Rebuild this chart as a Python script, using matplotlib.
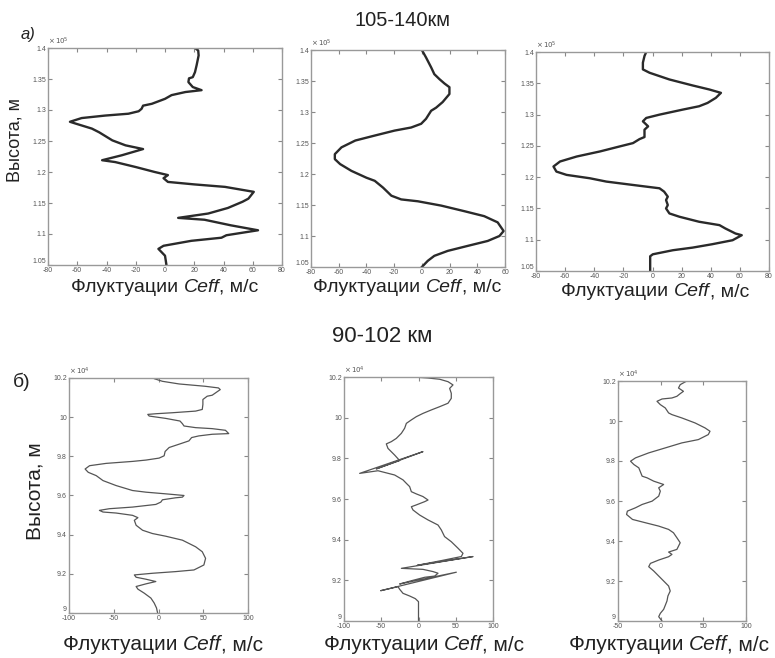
import matplotlib
matplotlib.use("Agg")
import matplotlib.pyplot as plt
import numpy as np

plt.rcParams['font.family'] = ['Liberation Sans', 'DejaVu Sans']

# ---------------- row a): 105-140 km (altitude in km, fluctuation in m/s) ----------------
alt_a1 = [105.0, 106.5, 107.6, 108.1, 108.9, 109.4, 109.8, 110.6, 111.4, 112.3,
          112.6, 113.3, 114.2, 115.2, 115.7, 116.8, 117.6, 118.0, 118.4, 119.0,
          119.5, 120.0, 120.8, 121.6, 121.9, 122.7, 123.7, 124.3, 125.1, 126.4,
          127.0, 127.8, 128.1, 128.7, 129.1, 129.4, 129.8, 130.2, 130.7, 131.0,
          131.8, 132.4, 132.9, 133.2, 133.7, 134.5, 135.1, 135.3, 136.1, 137.2,
          138.8, 139.6, 140.0]
ceff_a1 = [1, 0, -4.5, -1, 18, 38.6, 42, 63.6, 45, 27,
           9, 29.5, 43, 53, 57, 60.7, 41, 20, 2, -1,
           2, -7, -20, -34, -43, -29.5, -15, -27, -36, -45,
           -50, -61, -65, -57, -41, -25, -18, -16, -15, -9,
           0, 4.5, 14, 25, 19, 16, 16.4, 19, 20.5, 21.6,
           23, 22.7, 20.5]

alt_a2 = [105.0, 106.0, 106.8, 107.6, 108.4, 109.2, 110.0, 110.8, 112.2, 113.2,
          114.0, 114.9, 115.6, 115.9, 116.5, 117.8, 118.9, 119.4, 120.5, 121.6,
          122.4, 123.2, 124.3, 125.4, 126.2, 127.0, 127.5, 128.1, 128.9, 130.2,
          130.7, 131.6, 132.9, 134.0, 134.6, 135.3, 136.1, 137.2, 138.8, 140.0]
ceff_a2 = [0, 4.3, 9, 18.7, 33, 47.5, 56, 59, 54.7, 45,
           30.7, 14, -2.9, -14.9, -22, -28, -34, -40, -50.8, -59,
           -62.8, -62.8, -58, -48, -34, -19.7, -7.7, -0.5, 3, 6.7,
           10.3, 15, 19.9, 19.9, 16.3, 12.7, 9, 6.7, 3, 0]

alt_a3 = [105.0, 107.35, 107.67, 108.32, 108.74, 109.28, 109.92, 110.72, 110.99, 111.8,
          112.33, 112.87, 113.67, 114.2, 115.0, 115.54, 116.34, 116.88, 117.68, 118.22,
          118.75, 119.29, 119.82, 120.36, 120.89, 121.7, 122.5, 123.3, 124.11, 124.91,
          125.44, 126.08, 126.41, 127.58, 128.12, 128.92, 129.46, 129.99, 130.79, 131.33,
          131.86, 132.67, 133.47, 134.01, 134.65, 135.61, 136.68, 137.22, 138.29, 139.36,
          140.0]
ceff_a3 = [-1.6, -1.6, 0.2, 14, 27.6, 41, 55, 61.3, 57, 50,
           46, 32, 18.5, 11.6, 9.3, 10.5, 9.3, 10.5, 8, 4.8,
           -13.4, -31.7, -43, -59, -66, -68, -63.5, -52, -36, -22.5,
           -13.4, -8.9, -5.5, -5.5, -3, -6.6, -4.3, 4.8, 20.7, 32,
           37.8, 43.5, 47, 39, 27.6, 11.6, -2, -6.6, -6.6, -5.5,
           -4.3]

# ---------------- row б): 90-102 km ----------------
alt_b1 = [90.0, 90.254, 90.508, 90.762, 91.015, 91.218, 91.353, 91.488, 91.607, 91.725,
          91.826, 91.944, 92.029, 92.113, 92.198, 92.452, 92.79, 93.128, 93.381, 93.719,
          93.922, 94.057, 94.226, 94.48, 94.733, 94.868, 94.987, 95.105, 95.156, 95.24,
          95.325, 95.409, 95.544, 95.663, 95.781, 95.882, 95.916, 96.001, 96.085, 96.17,
          96.254, 96.508, 96.761, 97.015, 97.184, 97.353, 97.522, 97.64, 97.741, 97.809,
          97.91, 98.028, 98.248, 98.451, 98.62, 98.789, 98.958, 99.043, 99.127, 99.161,
          99.33, 99.414, 99.465, 99.549, 99.668, 99.803, 99.938, 100.057, 100.141, 100.175,
          100.226, 100.31, 100.395, 100.648, 100.902, 101.07, 101.121, 101.408, 101.493, 101.578,
          101.696, 101.831, 101.966, 102.0]
ceff_b1 = [-1, -2.2, -4.8, -8.5, -16, -23, -25, -14, -3, -14,
           -25, -27, -6.7, 19, 39.6, 50.7, 52.6, 48.9, 41.5, 26.7,
           8, -6.7, -17.8, -25, -27, -23, -29, -47.4, -62, -66,
           -55, -29, -3, 2.6, 4.4, 19, 26.7, 28.5, 8, -14,
           -29, -47.4, -62, -69.6, -78.5, -82, -77, -58.5, -29, -14,
           0.7, 6.3, 7.4, 11.9, 23, 34, 37, 45, 60, 78.5,
           74.8, 60, 41.5, 28.5, 26.7, 24, 8, -10.4, -12, -3,
           15.5, 41.5, 48.9, 49.6, 49.6, 54.4, 60, 69, 67, 52,
           23, 4.4, -4.8, -4.8]

alt_b2 = [90.0, 90.95, 91.1, 91.23, 91.36, 91.56, 91.69, 91.49, 92.4, 91.82,
          91.98, 92.15, 92.21, 92.35, 92.43, 92.54, 92.59, 93.17, 92.74, 92.97,
          93.17, 93.33, 93.58, 93.9, 94.15, 94.48, 94.72, 94.97, 95.21, 95.46,
          95.62, 95.71, 95.87, 95.95, 96.12, 96.25, 96.36, 96.61, 96.77, 96.94,
          97.18, 97.39, 97.26, 98.33, 97.48, 97.89, 98.16, 98.49, 98.71, 98.82,
          98.98, 99.23, 99.48, 99.72, 99.89, 100.05, 100.21, 100.38, 100.54, 100.71,
          100.95, 101.2, 101.44, 101.61, 101.77, 101.89, 101.95, 101.98]
ceff_b2 = [0, 0, -4.3, -11.9, -20.8, -25.3, -27.5, -50.8, 50.8, -25.3,
           -9.6, 8.3, 21.7, 26.2, 19.5, 6, -23, 73.2, -1.6, 30.6,
           57.5, 59.7, 53, 44, 35, 30.6, 26.2, 12.8, 1.6, -7.4,
           -9.6, -2.9, 8.3, 12.8, 6, -2.9, -9.6, -11.9, -16.3, -20.8,
           -32, -54.4, -79, 6, -56.6, -25.3, -32, -41, -43.2, -36.5,
           -29.8, -23, -18.6, -16.3, -9.6, -2.9, 6, 17.2, 28.4, 39.6,
           44, 44, 41.8, 46.3, 39.6, 28.4, 12.8, 0.2]

alt_b3 = [90.0, 90.216, 90.383, 90.583, 90.785, 91.001, 91.251, 91.5, 91.75, 92.0,
          92.249, 92.499, 92.715, 92.881, 93.048, 93.214, 93.33, 93.447, 93.58, 93.913,
          94.163, 94.412, 94.579, 94.745, 94.912, 95.078, 95.328, 95.494, 95.661, 95.827,
          95.993, 96.243, 96.492, 96.659, 96.825, 96.908, 96.991, 97.158, 97.241, 97.441,
          97.657, 97.824, 97.99, 98.156, 98.406, 98.655, 98.905, 99.071, 99.321, 99.487,
          99.654, 99.903, 100.153, 100.319, 100.403, 100.652, 100.819, 100.985, 101.101, 101.151,
          101.235, 101.368, 101.484, 101.651, 101.817, 102.0]
ceff_b3 = [1.6, -2.3, -0.4, 3.5, 5.4, 7.4, 8.5, 11.2, 9.3, 3.5,
           -2.3, -8.1, -14, -12, -2.3, 9.3, 13.2, 9.3, 19, 22.9,
           19, 15, 9.3, -2.3, -17.8, -33, -40, -39, -29.5, -21.7,
           -10, -2.3, -0.4, -2.3, 3.5, -2.3, -8.1, -15.9, -21.7, -23.6,
           -25.6, -31.4, -35.3, -29.5, -14, 5.4, 24.8, 44.2, 55.8, 57.8,
           52, 40.3, 24.8, 13.2, 9.3, 5.4, -0.4, -4.3, 1.6, 13.2,
           19, 22.9, 26.7, 20.9, 22.9, 30.6]

# axis ticks
yticks_a = [1.05, 1.1, 1.15, 1.2, 1.25, 1.3, 1.35, 1.4]
xticks_a13 = [-80, -60, -40, -20, 0, 20, 40, 60, 80]
xticks_a2 = [-80, -60, -40, -20, 0, 20, 40, 60]
yticks_b = [9.0, 9.2, 9.4, 9.6, 9.8, 10.0, 10.2]
xticks_b12 = [-100, -50, 0, 50, 100]
xticks_b3 = [-50, 0, 50, 100]

W, H = 775, 658
fig = plt.figure(figsize=(W / 100, H / 100), dpi=100)


def make_axes(l, r, t, b):
    return fig.add_axes([l / W, 1 - b / H, (r - l) / W, (b - t) / H])


def style(ax, xt, yt, xlim, ylim, power):
    ax.set_xlim(*xlim)
    ax.set_ylim(*ylim)
    ax.set_xticks(xt)
    ax.set_yticks(yt)
    ax.set_xticklabels(['%g' % v for v in xt])
    ylabels = ax.set_yticklabels(['%g' % v for v in yt])
    # lift the lowest height label off the corner so it clears the x labels
    ylabels[0].set_va('bottom')
    ax.tick_params(direction='in', top=True, right=True, length=3, width=0.8,
                   color='#888888', labelsize=5, labelcolor='#555555', pad=1.5)
    for sp in ax.spines.values():
        sp.set_color('#999999')
        sp.set_linewidth(1.0)
    ax.text(0.0, 1.005, r'$\times\,10^{%d}$' % power, transform=ax.transAxes,
            fontsize=5, color='#555555', ha='left', va='bottom')


xlabel_parts = ['Флуктуации ', 'Ceff', ', м/с']


def xlabel(xc, yc, size):
    t1 = fig.text(0, 0, xlabel_parts[0], fontsize=size, color='#222222')
    t2 = fig.text(0, 0, xlabel_parts[1], fontsize=size, style='italic', color='#222222')
    t3 = fig.text(0, 0, xlabel_parts[2], fontsize=size, color='#222222')
    fig.canvas.draw()
    r = fig.canvas.get_renderer()
    ws = [t.get_window_extent(r).width for t in (t1, t2, t3)]
    x = xc - sum(ws) / 2
    for t, w in zip((t1, t2, t3), ws):
        t.set_position((x / W, 1 - yc / H))
        t.set_va('center')
        x += w


# top row
top_boxes = [(48, 282, 48, 265), (311, 505, 50, 267), (536, 769, 52, 271)]
top_data = [(alt_a1, ceff_a1, xticks_a13, (-80, 80)),
            (alt_a2, ceff_a2, xticks_a2, (-80, 60)),
            (alt_a3, ceff_a3, xticks_a13, (-80, 80))]
top_label_pos = [(165, 287), (407, 287), (655, 292)]
for box, (alt, ceff, xt, xl), (lx, ly) in zip(top_boxes, top_data, top_label_pos):
    ax = make_axes(*box)
    ax.plot(ceff, np.array(alt) / 100.0, color='#2a2a2a', lw=1.7)
    style(ax, xt, yticks_a, xl, (1.05, 1.4), 5)
    xlabel(lx, ly, 14)

# bottom row
bot_boxes = [(69, 248, 378, 613), (344, 493, 377, 621), (618, 746, 381, 621)]
bot_data = [(alt_b1, ceff_b1, xticks_b12, (-100, 100)),
            (alt_b2, ceff_b2, xticks_b12, (-100, 100)),
            (alt_b3, ceff_b3, xticks_b3, (-50, 100))]
for box, (alt, ceff, xt, xl) in zip(bot_boxes, bot_data):
    ax = make_axes(*box)
    ax.plot(ceff, np.array(alt) / 10.0, color='#555555', lw=0.9)
    style(ax, xt, yticks_b, xl, (9.0, 10.2), 4)
for xc in (163, 424, 669):
    xlabel(xc, 645, 15)

# headings and row labels
fig.text(402 / W, 1 - 21 / H, '105-140км', fontsize=14.5, ha='center', va='center', color='#222222')
fig.text(382 / W, 1 - 337 / H, '90-102 км', fontsize=16, ha='center', va='center', color='#222222')
fig.text(28 / W, 1 - 35 / H, 'а)', fontsize=12, style='italic', ha='center', va='center', color='#222222')
fig.text(22 / W, 1 - 382 / H, 'б)', fontsize=14, ha='center', va='center', color='#222222')
fig.text(15 / W, 1 - 140 / H, 'Высота, м', fontsize=13, rotation=90, ha='center', va='center', color='#222222')
fig.text(35 / W, 1 - 491 / H, 'Высота, м', fontsize=15, rotation=90, ha='center', va='center', color='#222222')

fig.savefig('out.png', dpi=100)
